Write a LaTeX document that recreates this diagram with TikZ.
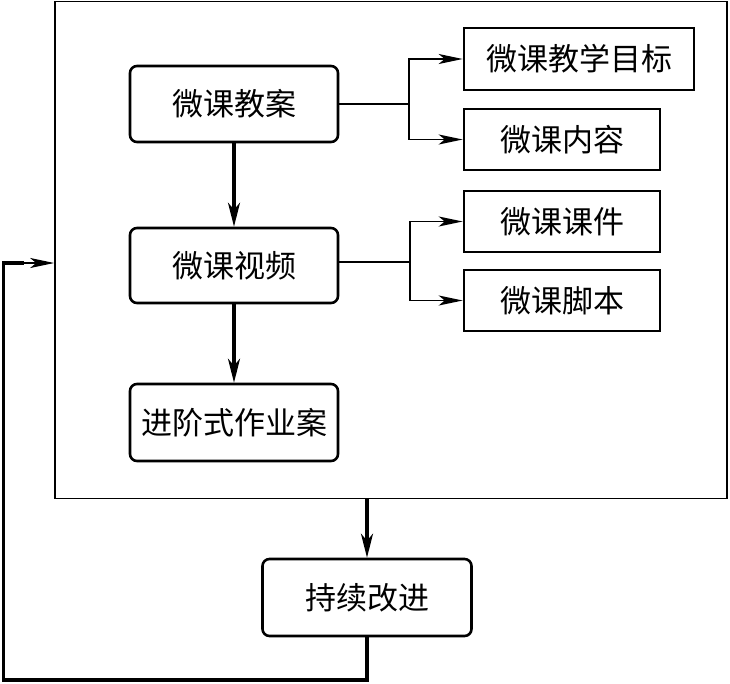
\documentclass[tikz,border=0pt]{standalone}
\usepackage{fontspec}
\newfontfamily\cjk{Noto Sans CJK SC}
\usetikzlibrary{arrows.meta}
\tikzset{
  txt/.style={font=\cjk\fontsize{31}{31}\selectfont, inner sep=0pt},
  rbox/.style={txt, draw, line width=2.6pt, rounded corners=7pt, minimum width=208pt},
  sbox/.style={txt, draw, line width=2.6pt, minimum height=61pt},
  thinln/.style={line width=1.8pt},
  thinarr/.style={thinln, -{Stealth[length=24pt,width=10pt,inset=6pt]}},
  thickarr/.style={line width=3.2pt, -{Stealth[length=24pt,width=12pt,inset=7pt]}},
}
\begin{document}
\begin{tikzpicture}[x=1pt,y=-1pt]
\useasboundingbox (0,0) rectangle (730,683);
\node[draw, line width=1.6pt, minimum width=672pt, minimum height=497pt, inner sep=0pt] (outer) at (391,250) {};
\node[rbox, minimum height=76pt] (jiaoan) at (234,104) {微课教案};
\node[rbox, minimum height=75pt] (shipin) at (234,265.5) {微课视频};
\node[rbox, minimum height=77pt] (zuoye) at (234,422.5) {进阶式作业案};
\node[rbox, minimum width=209pt, minimum height=77pt] (gaijin) at (367,597.5) {持续改进};
\node[sbox, minimum width=230pt, minimum height=62pt] (mubiao) at (579,59) {微课教学目标};
\node[sbox, minimum width=196pt] (neirong) at (562,139.5) {微课内容};
\node[sbox, minimum width=196pt] (kejian) at (562,221.5) {微课课件};
\node[sbox, minimum width=196pt] (jiaoben) at (562,300.5) {微课脚本};
% branches
\draw[thinln] (jiaoan.east) -- ++(70,0) coordinate (b1);
\draw[thinarr] (b1) |- (mubiao.west);
\draw[thinarr] (b1) |- (neirong.west);
\draw[thinln] (shipin.east |- 0,262) -- (410,262) coordinate (b2);
\draw[thinarr] (b2) |- (kejian.west);
\draw[thinarr] (b2) |- (jiaoben.west);
% vertical flow
\draw[thickarr] (jiaoan) -- (shipin);
\draw[thickarr] (shipin) -- (zuoye);
\draw[thickarr] (gaijin.north |- outer.south) -- (gaijin.north);
% feedback
\coordinate (c1) at (3.5,680);
\coordinate (c2) at (3.5,263);
\draw[line width=3.2pt] (gaijin.south) |- (c1) -- (c2) -- ++(20,0);
\draw[line width=2pt, -{Stealth[length=24pt,width=10pt,inset=6pt]}] (c2) ++(15,0) -- (c2 -| outer.west);
\end{tikzpicture}
\end{document}
